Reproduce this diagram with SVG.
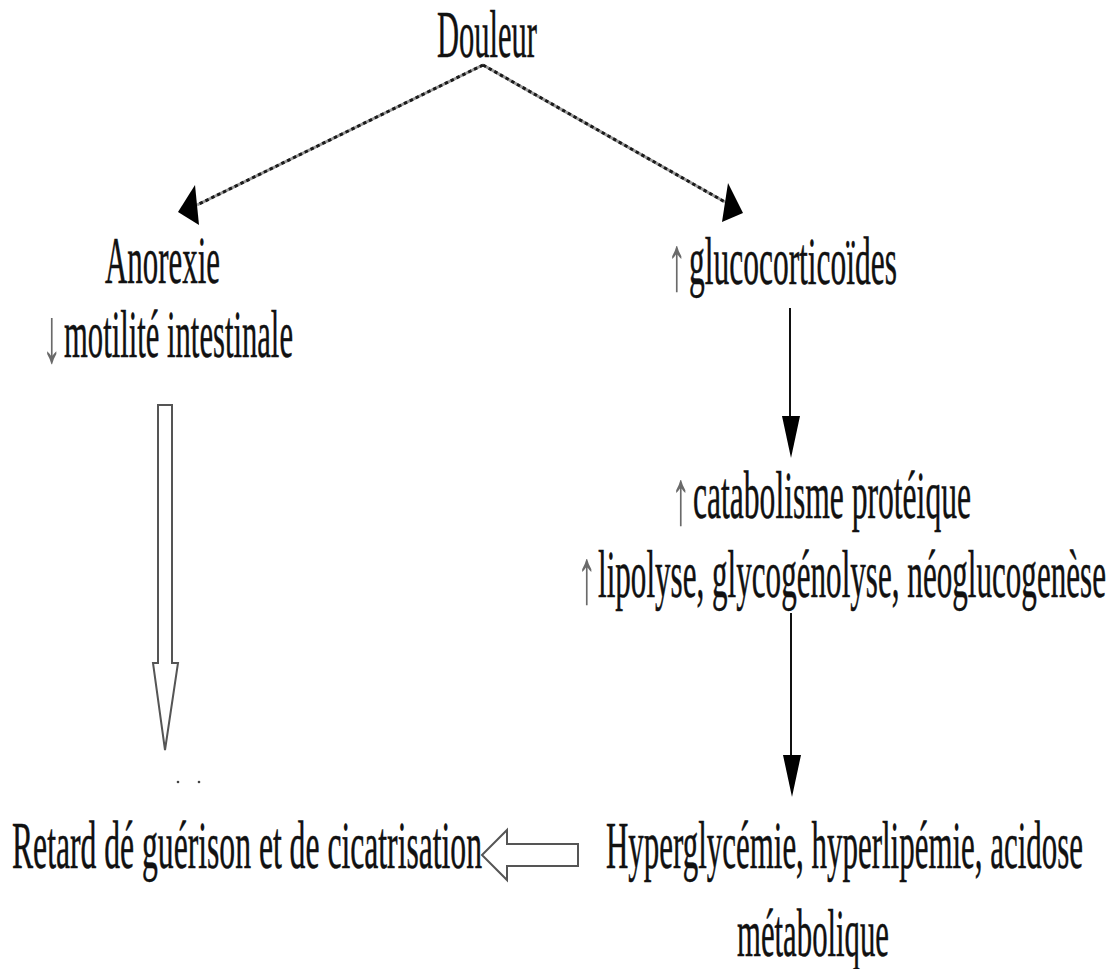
<svg xmlns="http://www.w3.org/2000/svg" width="1120" height="969" viewBox="0 0 1120 969">
  <style>
    .lbl { font-family: "Liberation Serif", "Times New Roman", serif; font-size: 67px; fill: #111; stroke: #111; stroke-width: 0.5; }
    .arw { font-family: "Liberation Serif", "Times New Roman", serif; font-size: 78px; fill: #6a6a6a; }
    .dot-base { fill: none; stroke: #9a9a9a; stroke-width: 3; }
    .dot-line { fill: none; stroke: #1a1a1a; stroke-width: 3; stroke-dasharray: 3.5 3; }
    .solid { fill: none; stroke: #111; stroke-width: 2; }
    .head { fill: #000; }
    .hollow { fill: #fff; stroke: #555; stroke-width: 2; stroke-linejoin: miter; }
  </style>
  <rect width="1120" height="969" fill="#fff"/>

  <!-- connectors -->
  <g id="connectors">
    <!-- Douleur to both branches (dotted) -->
    <path class="dot-base" d="M483,65 L197,205 M483,65 L725,202"/>
    <path class="dot-line" d="M483,65 L197,205 M483,65 L725,202"/>
    <polygon class="head" points="195,185 178,212 199,225"/>
    <polygon class="head" points="728,183 743,213 722,222"/>

    <!-- glucocorticoides to catabolisme -->
    <line class="solid" x1="790" y1="308" x2="790" y2="420"/>
    <polygon class="head" points="782,416 800,416 791,458"/>

    <!-- lipolyse to hyperglycemie -->
    <line class="solid" x1="791" y1="613" x2="791" y2="758"/>
    <polygon class="head" points="783,755 801,755 792,797"/>

    <!-- hollow arrow down: anorexie to retard -->
    <path class="hollow" d="M158,405 L172,405 L172,663 L178,663 L165,750 L153,663 L158,663 Z"/>

    <!-- hollow arrow left: hyperglycemie to retard -->
    <path class="hollow" d="M578,844 L578,866 L507,866 L507,880 L482,855 L507,830 L507,844 Z"/>

    <!-- stray marks -->
    <circle cx="178" cy="782" r="1.3" fill="#444"/>
    <circle cx="199" cy="782" r="1.3" fill="#444"/>
  </g>

  <g id="n-douleur">
    <text class="lbl" x="437" y="57" textLength="100" lengthAdjust="spacingAndGlyphs">Douleur</text>
  </g>

  <g id="n-anorexie">
    <text class="lbl" x="105" y="283" textLength="115" lengthAdjust="spacingAndGlyphs">Anorexie</text>
    <text class="arw" transform="translate(42,362) scale(0.5,1)">↓</text>
    <text class="lbl" x="64" y="357" textLength="229" lengthAdjust="spacingAndGlyphs">motilité intestinale</text>
  </g>

  <g id="n-gluco">
    <text class="arw" transform="translate(667,290) scale(0.5,1)">↑</text>
    <text class="lbl" x="689" y="284" textLength="208" lengthAdjust="spacingAndGlyphs">glucocorticoïdes</text>
  </g>

  <g id="n-catabolisme">
    <text class="arw" transform="translate(671,524) scale(0.5,1)">↑</text>
    <text class="lbl" x="693" y="518" textLength="278" lengthAdjust="spacingAndGlyphs">catabolisme protéique</text>
    <text class="arw" transform="translate(577,603) scale(0.5,1)">↑</text>
    <text class="lbl" x="598" y="597" textLength="508" lengthAdjust="spacingAndGlyphs">lipolyse, glycogénolyse, néoglucogenèse</text>
  </g>

  <g id="n-hyper">
    <text class="lbl" x="606" y="868" textLength="477" lengthAdjust="spacingAndGlyphs">Hyperglycémie, hyperlipémie, acidose</text>
    <text class="lbl" x="737" y="956" textLength="152" lengthAdjust="spacingAndGlyphs">métabolique</text>
  </g>

  <g id="n-retard">
    <text class="lbl" x="12" y="868" textLength="470" lengthAdjust="spacingAndGlyphs">Retard dé guérison et de cicatrisation</text>
  </g>
</svg>
